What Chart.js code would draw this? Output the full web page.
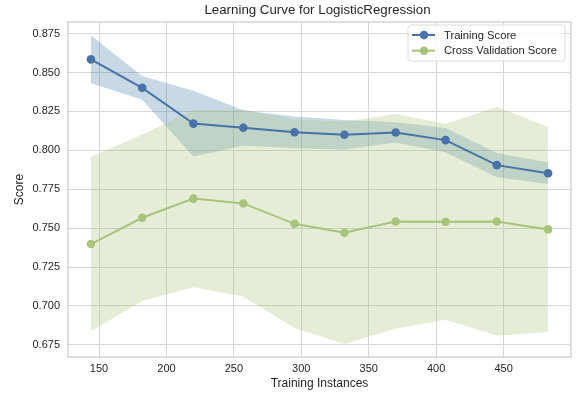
<!DOCTYPE html>
<html lang="en">
<head>
  <meta charset="UTF-8" />
  <title>Learning Curve for LogisticRegression</title>
  <script src="https://cdn.jsdelivr.net/npm/chart.js"></script>
  <style>
    html, body { margin: 0; padding: 0; background: #fff; }
    #wrap { width: 583px; height: 398px; }
  </style>
</head>
<body>
  <div id="wrap"><canvas id="curve" width="583" height="398"></canvas></div>

  <script>
    // values
    const trainSizes = [144, 182, 220, 257, 295, 332, 370, 407, 445, 483];
    const trainScoreMean = [0.8585, 0.8402, 0.8172, 0.8145, 0.8116, 0.8100, 0.8115, 0.8066, 0.7905, 0.7853];
    const trainScoreStd = [0.0153, 0.0076, 0.0211, 0.0113, 0.0102, 0.0095, 0.0065, 0.0078, 0.0078, 0.0069];
    const cvScoreMean = [0.7398, 0.7567, 0.7690, 0.7659, 0.7528, 0.7470, 0.7543, 0.7541, 0.7543, 0.7492];
    const cvScoreStd = [0.0560, 0.0535, 0.0570, 0.0600, 0.0670, 0.0715, 0.0690, 0.0630, 0.0735, 0.0660];

    const xTicks = [150, 200, 250, 300, 350, 400, 450];
    const yTicks = [0.675, 0.700, 0.725, 0.750, 0.775, 0.800, 0.825, 0.850, 0.875];
    const seriesNames = ['Training Score', 'Cross Validation Score'];
    const chartTitle = 'Learning Curve for LogisticRegression';

    const BLUE = '#4872a8';
    const GREEN = '#a8c47c';
    const TEXT = '#262626';
    const FONT = "'Liberation Sans', Arial, sans-serif";

    const pts = (ys) => trainSizes.map((x, i) => ({ x: x, y: ys[i] }));
    const band = (m, s, sign) => m.map((v, i) => v + sign * s[i]);

    Chart.defaults.font.family = FONT;
    Chart.defaults.color = TEXT;

    // title over the plot area + matplotlib-like legend box + full frame
    const decor = {
      id: 'decor',
      afterDraw(chart) {
        const c = chart.ctx;
        const a = chart.chartArea;
        c.save();

        c.strokeStyle = '#cccccc';
        c.lineWidth = 1.25;
        c.strokeRect(a.left, a.top, a.right - a.left, a.bottom - a.top);

        c.fillStyle = TEXT;
        c.font = '13.3px ' + FONT;
        c.textAlign = 'center';
        c.textBaseline = 'middle';
        c.fillText(chartTitle, (a.left + a.right) / 2 - 2, 10);

        const bx = a.right - 163, by = a.top + 3, bw = 157, bh = 36;
        c.beginPath();
        c.roundRect(bx, by, bw, bh, 3);
        c.fillStyle = 'rgba(255,255,255,0.8)';
        c.fill();
        c.strokeStyle = '#dcdcdc';
        c.lineWidth = 1;
        c.stroke();

        const colors = [BLUE, GREEN];
        c.font = '11.2px ' + FONT;
        c.textAlign = 'left';
        seriesNames.forEach((name, i) => {
          const y = by + 10 + i * 15.7;
          c.strokeStyle = colors[i];
          c.lineWidth = 2;
          c.beginPath();
          c.moveTo(bx + 4, y);
          c.lineTo(bx + 27, y);
          c.stroke();
          c.fillStyle = colors[i];
          c.beginPath();
          c.arc(bx + 16, y, 4.3, 0, Math.PI * 2);
          c.fill();
          c.fillStyle = TEXT;
          c.fillText(name, bx + 36, y + 0.5);
        });
        c.restore();
      }
    };

    new Chart(document.getElementById('curve'), {
      type: 'line',
      data: {
        datasets: [
          // 0,1: training band
          { data: pts(band(trainScoreMean, trainScoreStd, -1)), borderWidth: 0, pointRadius: 0, fill: false, order: 3 },
          { data: pts(band(trainScoreMean, trainScoreStd, 1)), borderWidth: 0, pointRadius: 0, fill: 0, backgroundColor: 'rgba(72,128,172,0.3)', order: 3 },
          // 2,3: cross validation band
          { data: pts(band(cvScoreMean, cvScoreStd, -1)), borderWidth: 0, pointRadius: 0, fill: false, order: 2 },
          { data: pts(band(cvScoreMean, cvScoreStd, 1)), borderWidth: 0, pointRadius: 0, fill: 2, backgroundColor: 'rgba(168,196,124,0.3)', order: 2 },
          // mean lines
          { label: seriesNames[1], data: pts(cvScoreMean), borderColor: GREEN, backgroundColor: GREEN, borderWidth: 2, pointRadius: 4.3, pointBorderWidth: 0, fill: false, order: 1 },
          { label: seriesNames[0], data: pts(trainScoreMean), borderColor: BLUE, backgroundColor: BLUE, borderWidth: 2, pointRadius: 4.3, pointBorderWidth: 0, fill: false, order: 0 }
        ]
      },
      options: {
        responsive: false,
        animation: false,
        layout: { padding: { top: 22, right: 12, left: 0, bottom: 0 } },
        plugins: {
          legend: { display: false },
          title: { display: false },
          tooltip: { enabled: false }
        },
        scales: {
          x: {
            type: 'linear',
            min: 127,
            max: 500,
            afterFit: s => { s.height = 41; },
            afterBuildTicks: s => { s.ticks = xTicks.map(v => ({ value: v })); },
            grid: { color: '#d6d6d6', lineWidth: 1, drawTicks: false },
            border: { display: false },
            ticks: { padding: 5, font: { size: 11 }, color: TEXT, maxRotation: 0, callback: v => String(v) },
            title: { display: true, text: 'Training Instances', font: { size: 12 }, color: TEXT, padding: { top: 0, bottom: 6.8 } }
          },
          y: {
            min: 0.6672,
            max: 0.8825,
            afterFit: s => { s.width = 68; },
            afterBuildTicks: s => { s.ticks = yTicks.map(v => ({ value: v })); },
            grid: { color: '#d6d6d6', lineWidth: 1, drawTicks: false },
            border: { display: false },
            ticks: { padding: 8, font: { size: 11 }, color: TEXT, callback: v => v.toFixed(3) },
            title: { display: true, text: 'Score', font: { size: 12 }, color: TEXT, padding: { top: 12.8, bottom: 0 } }
          }
        }
      },
      plugins: [decor]
    });
  </script>
</body>
</html>
